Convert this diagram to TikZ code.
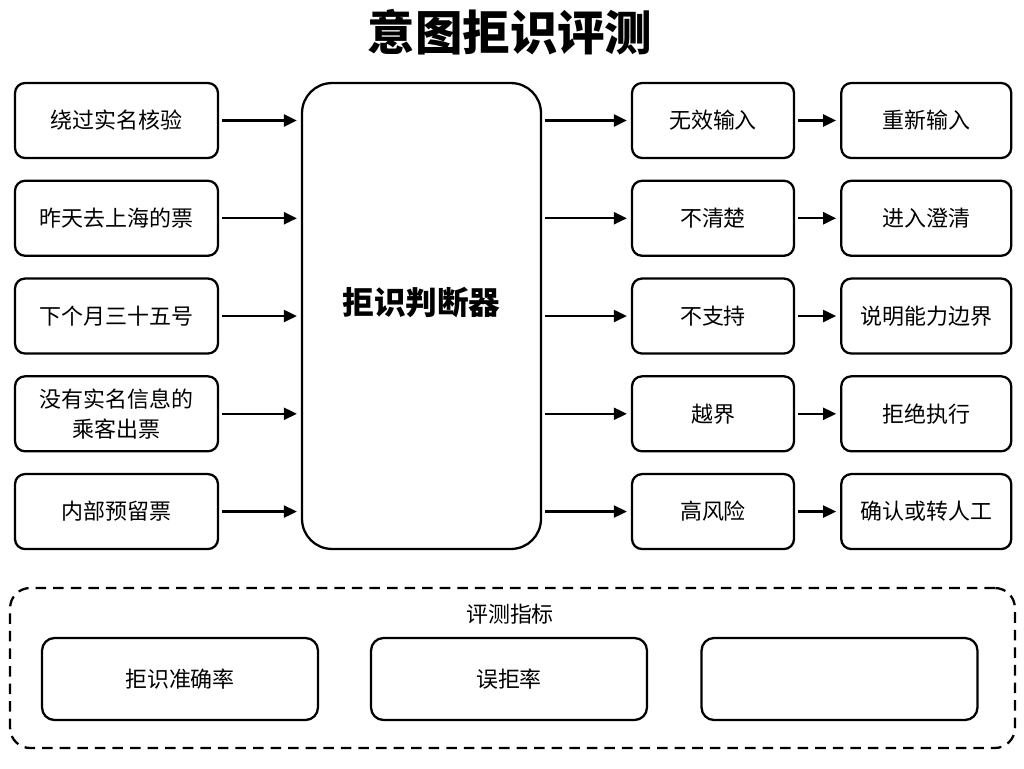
\documentclass[tikz,border=0pt]{standalone}
\usepackage{fontspec}
\setmainfont{Noto Sans CJK SC}
\usetikzlibrary{positioning,arrows.meta}

\tikzset{
  base/.style={draw, line width=1.3pt, align=center, font=\fontsize{12.5}{17}\selectfont},
  inbox/.style={base, rounded corners=0.2cm, minimum width=4.06cm, minimum height=1.5cm},
  midbox/.style={base, rounded corners=0.2cm, minimum width=3.24cm, minimum height=1.5cm},
  endbox/.style={base, rounded corners=0.2cm, minimum width=3.4cm, minimum height=1.5cm},
  judgebox/.style={draw, line width=1.3pt, rounded corners=0.6cm, minimum width=4.78cm, minimum height=9.32cm},
  metricbox/.style={base, rounded corners=0.25cm, minimum width=5.52cm, minimum height=1.64cm},
  metricframe/.style={draw, line width=1.3pt, dash pattern=on 6pt off 4pt, rounded corners=0.4cm, minimum width=20.1cm, minimum height=3.2cm},
  flow/.style={->, line width=1.3pt, shorten <=0.06cm, shorten >=0.08cm},
}

\begin{document}
\begin{tikzpicture}[x=0.02cm, y=-0.02cm, >={Triangle[length=0.26cm,width=0.24cm]}]
\useasboundingbox (0,0) rectangle (1024,768);

% title
\node[font=\fontsize{27}{30}\selectfont\bfseries] (title) at (510,32) {意图拒识评测};

% inputs
\node[inbox] (in1) at (116.5,120.5) {绕过实名核验};
\node[inbox, below=0.41cm of in1] (in2) {昨天去上海的票};
\node[inbox, below=0.41cm of in2] (in3) {下个月三十五号};
\node[inbox, below=0.41cm of in3] (in4) {没有实名信息的\\乘客出票};
\node[inbox, below=0.41cm of in4] (in5) {内部预留票};

% judge
\node[judgebox] (judge) at (421.5,316) {};
\node[font=\fontsize{18}{22}\selectfont\bfseries] (judgetext) at (421.5,303) {拒识判断器};

% outcomes
\node[midbox] (out1) at (713,120.5) {无效输入};
\node[midbox, below=0.41cm of out1] (out2) {不清楚};
\node[midbox, below=0.41cm of out2] (out3) {不支持};
\node[midbox, below=0.41cm of out3] (out4) {越界};
\node[midbox, below=0.41cm of out4] (out5) {高风险};

% actions
\node[endbox, right=0.9cm of out1] (act1) {重新输入};
\node[endbox, right=0.9cm of out2] (act2) {进入澄清};
\node[endbox, right=0.9cm of out3] (act3) {说明能力边界};
\node[endbox, right=0.9cm of out4] (act4) {拒绝执行};
\node[endbox, right=0.9cm of out5] (act5) {确认或转人工};

\foreach \i in {1,...,5} {
  \draw[flow] (in\i) -- (in\i -| judge.west);
  \draw[flow] (judge.east |- out\i) -- (out\i);
  \draw[flow] (out\i) -- (act\i);
}

% metrics
\node[metricframe] (frame) at (512.5,668) {};
\node[font=\fontsize{12.5}{17}\selectfont] (mtitle) at (510,614) {评测指标};
\node[metricbox] (m1) at (180,679) {拒识准确率};
\node[metricbox] (m2) at (509,679) {误拒率};
\node[metricbox] (m3) at (839.5,679) {};
\end{tikzpicture}
\end{document}
